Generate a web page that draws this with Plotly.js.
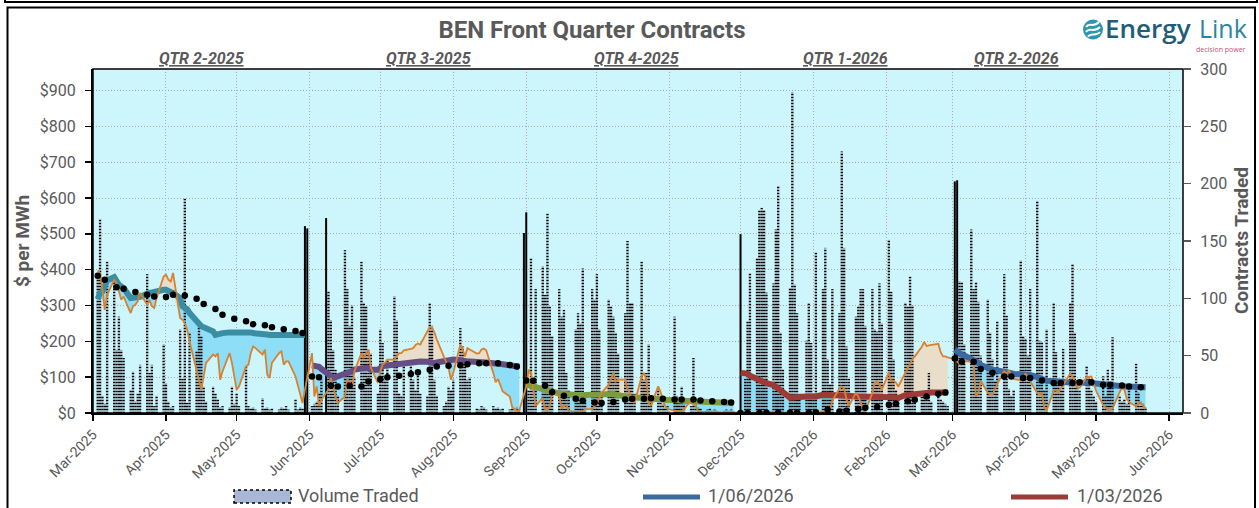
<!DOCTYPE html>
<html><head><meta charset="utf-8">
<script src="https://cdn.plot.ly/plotly-3.0.1.min.js"></script>
<style>html,body{margin:0;padding:0;background:#fff;}#chart{width:1259px;height:508px;}</style>
</head><body><div id="chart"></div>
<script>
// ---------- DATA ----------
const monthTicks = ['2025-03-01','2025-04-01','2025-05-01','2025-06-01','2025-07-01','2025-08-01','2025-09-01','2025-10-01','2025-11-01','2025-12-01','2026-01-01','2026-02-01','2026-03-01','2026-04-01','2026-05-01','2026-06-01'];
const qtrLabels = ['QTR 2-2025','QTR 3-2025','QTR 4-2025','QTR 1-2026','QTR 2-2026'];
const legendLabels = ['Volume Traded','1/06/2026','1/03/2026'];
const yTickVals = [0,100,200,300,400,500,600,700,800,900];

// trading-day windows of each front quarter
const periodStart = ['2025-03-03','2025-06-02','2025-09-01','2025-12-01','2026-03-02'];
const periodEnd   = ['2025-05-30','2025-08-29','2025-11-28','2026-02-27','2026-05-22'];

// daily spot price ($/MWh, orange)
const spot_Q2_2025 = [398,391,344,288,330, 372,363,339,316,325, 279,298,302,312,335, 302,316,298,293,321, 381,386,372,367,391, 265,260,251,232,200, 121,88,65,102,140, 163,158,167,93,116, 167,140,102,65,74, 130,135,167,186,181, 163,177,107,98,140, 167,172,135,144,144, 102,79,51,28,65];
const spot_Q3_2025 = [167,46,74,19,37, 65,98,74,46,28, 46,93,88,70,116, 167,153,167,177,126, 84,116,135,140,149, 149,158,167,167,175, 179,181,190,194,191, 231,240,237,225,205, 158,144,126,93,112, 191,177,158,181,177, 166,167,177,180,175, 112,86,95,79,60, 46,17,11,7,6];
const spot_Q4_2025 = [74,121,112,65,19, 42,11,7,19,56, 47,14,19,23,5, 2,3,4,5,11, 11,19,28,42,56, 79,95,112,88,93, 93,65,56,37,28, 102,112,93,28,20, 74,60,37,19,11, 5,5,5,5,11, 35,33,19,5,4, 2,2,2,2,2, 2,2,1,1,1];
const spot_Q1_2026 = [1,0,1,0,2, 2,1,0,3,2, 4,5,3,2,1, 1,0,0,1,0, 0,1,0,2,0, 5,2,5,9,35, 68,74,67,40,19, 56,46,30,12,5, 56,84,88,80,65, 112,88,90,85,74, 112,125,140,150,158, 185,198,187,189,190, 193,170,158,158,155];
const spot_Q2_2026 = [150,143,137,137,145, 143,135,46,56,90, 56,53,52,65,80, 118,107,120,102,95, 91,95,110,100,88, 55,52,56,15,7, 62,63,57,68,80, 110,100,88,70,70, 100,100,102,82,62, 22,14,9,9,12, 58,70,65,40,30, 19,28,28,20,11];

// front quarter contract price ($/MWh)
const fwd_Q2_2025 = [318,335,339,353,370, 379,367,358,353,349, 321,321,321,321,324, 333,335,335,335,337, 344,344,339,337,335, 321,298,293,290,279, 256,246,242,239,237, 228,218,221,223,223, 225,225,226,227,228, 228,226,225,223,223, 221,221,219,218,218, 219,220,220,220,220, 219,219,218,218,218];
const fwd_Q3_2025 = [133,132,131,129,123, 107,100,98,100,102, 112,114,115,116,121, 126,126,126,125,121, 121,128,130,132,133, 136,138,139,139,140, 143,144,144,144,144, 143,141,140,139,141, 144,145,146,148,149, 147,145,144,144,144, 144,143,142,142,141, 139,139,138,137,136, 133,132,131,130,129];
const fwd_Q4_2025 = [79,77,75,73,71, 66,64,62,60,58, 55,54,53,52,51, 50,49,48,49,50, 51,52,53,52,50, 51,52,53,51,49, 47,45,44,43,42, 42,42,42,41,41, 40,39,38,37,36, 36,35,35,34,34, 33,33,32,32,32, 31,31,31,30,30, 30,29,29,28,28];
const fwd_Q1_2026 = [112,112,112,110,104, 95,90,87,85,83, 78,72,66,62,58, 43,44,45,46,46, 46,46,46,46,46, 51,51,51,51,51, 51,51,50,49,48, 46,46,46,46,46, 47,48,48,47,47, 46,45,44,43,42, 50,51,52,53,54, 55,56,56,57,57, 57,57,57,57,57];
const fwd_Q2_2026 = [177,170,163,162,161, 152,150,146,140,134, 124,121,121,120,119, 118,115,112,111,109, 107,107,107,107,106, 100,97,93,91,90, 89,88,88,87,86, 85,84,84,84,85, 85,85,84,83,82, 81,80,79,78,77, 76,75,74,74,74, 74,73,73,72,72];

// daily volume traded (contracts)
const vol_Q2_2025 = [119,169,15,8,132, 119,55,84,55,48, 20,36,10,17,42, 121,35,42,6,15, 60,26,10,5,6, 73,30,187,9,70, 54,76,67,23,10, 23,17,12,5,6, 5,23,8,17,6, 41,6,4,5,3, 13,4,5,3,4, 3,5,4,6,3, 12,3,5,4,0];
const vol_Q3_2025 = [6,8,10,17,29, 106,81,55,38,15, 142,108,76,94,31, 132,96,93,55,52, 17,73,61,29,47, 102,81,17,15,41, 41,29,20,35,17, 15,96,76,29,15, 6,10,23,20,29, 74,58,47,29,31, 4,3,6,5,3, 6,4,5,3,4, 3,4,3,5,3];
const vol_Q4_2025 = [0,20,135,29,108, 128,103,174,93,67, 108,84,90,35,20, 73,87,78,126,17, 108,99,121,73,15, 99,93,84,70,52, 87,150,96,96,17, 132,29,35,60,10, 23,12,8,5,6, 84,15,10,23,8, 6,48,12,5,4, 3,4,2,3,2, 2,3,2,3,2];
const vol_Q1_2026 = [0,0,30,80,122, 135,177,179,177,105, 113,160,198,70,38, 109,280,112,87,17, 63,96,61,17,140, 108,144,47,25,108, 87,228,144,58,30, 84,93,108,108,76, 108,73,71,113,78, 151,106,47,20,15, 96,93,119,94,17, 17,17,12,35,10, 17,12,10,8,6];
const vol_Q2_2026 = [0,0,115,114,60, 160,108,114,97,50, 99,70,47,28,80, 121,85,21,15,20, 133,67,65,50,108, 185,63,62,20,73, 96,53,25,20,56, 96,130,70,25,20, 41,32,20,15,10, 32,15,38,27,66, 15,10,12,8,20, 43,18,10,8,5];

// large roll-over volumes (solid bars)
const rollDates = ['2025-05-30','2025-05-31','2025-06-08','2025-08-31','2025-09-01','2025-12-01','2026-03-02','2026-03-03'];
const rollVol   = [163,161,170,157,175,156,202,203];

// average price markers (every third trading day)
const avg_Q2_2025 = [383,372,351,347,338,330,325,324,330,328,319,304,290,274,263,256,248,245,239,234,229,223];
const avg_Q3_2025 = [102,100,77,74,76,74,88,94,100,104,109,114,121,130,132,133,136,139,139,139,134,130];
const avg_Q4_2025 = [91,90,76,58,48,40,34,29,28,31,38,40,40,41,40,38,38,38,35,33,31,29];
const avg_Q1_2026 = [0,0,0,1,1,1,1,1,2,9,4,6,11,15,17,23,26,33,37,46,54,57];
const avg_Q2_2026 = [152,143,143,123,112,102,102,98,98,91,84,84,84,86,86,79,79,77,74,72];

// ---------- STYLE ----------
const FONT = 'Roboto, "Open Sans", sans-serif';
const GREY = '#595959';
const lineColors = ['#3a8ea3','#654d86','#7b9c3f','#9b3a37','#3c6aa0'];
const SPOT_C = '#d8822f', BLUE_FILL = '#8edef7', BEIGE_FILL = '#e8dec9';

function weekdays(a, b) {
  const out = []; const d = new Date(a + 'T00:00:00Z'); const e = new Date(b + 'T00:00:00Z');
  while (d <= e) { const w = d.getUTCDay(); if (w > 0 && w < 6) out.push(d.toISOString().slice(0, 10)); d.setUTCDate(d.getUTCDate() + 1); }
  return out;
}

const spots = [spot_Q2_2025, spot_Q3_2025, spot_Q4_2025, spot_Q1_2026, spot_Q2_2026];
const fwds = [fwd_Q2_2025, fwd_Q3_2025, fwd_Q4_2025, fwd_Q1_2026, fwd_Q2_2026];
const vols = [vol_Q2_2025, vol_Q3_2025, vol_Q4_2025, vol_Q1_2026, vol_Q2_2026];
const avgs = [avg_Q2_2025, avg_Q3_2025, avg_Q4_2025, avg_Q1_2026, avg_Q2_2026];

const traces = [];
const allDates = [], allSpot = [], volDates = [], allVol = [], avgX = [], avgY = [];
const lineTraces = [];
for (let q = 0; q < 5; q++) {
  const dates = weekdays(periodStart[q], periodEnd[q]);
  const n = Math.min(dates.length, spots[q].length, fwds[q].length);
  const x = dates.slice(0, n), s = spots[q].slice(0, n), f = fwds[q].slice(0, n);
  const m = s.map((v, i) => Math.min(v, f[i]));
  const base = {x: x, mode: 'lines', line: {width: 0}, hoverinfo: 'skip', showlegend: false, xaxis: 'x', yaxis: 'y'};
  traces.push(Object.assign({}, base, {y: m}));
  traces.push(Object.assign({}, base, {y: f, fill: 'tonexty', fillcolor: BLUE_FILL}));
  traces.push(Object.assign({}, base, {y: m}));
  traces.push(Object.assign({}, base, {y: s, fill: 'tonexty', fillcolor: BEIGE_FILL}));
  lineTraces.push({x: x, y: f, mode: 'lines', line: {color: lineColors[q], width: 6}, xaxis: 'x', yaxis: 'y3', showlegend: false, hoverinfo: 'skip'});
  x.forEach((d, i) => { allDates.push(d); allSpot.push(s[i]); });
  dates.slice(0, vols[q].length).forEach((d, i) => { volDates.push(d); allVol.push(vols[q][i]); });
  avgs[q].forEach((v, k) => { const d = dates[k * 3]; if (d) { avgX.push(d); avgY.push(v); } });
}

const DAY = 86400000;
traces.push({type: 'bar', x: volDates, y: allVol, width: DAY * 1.0, xaxis: 'x', yaxis: 'y2', showlegend: false, hoverinfo: 'skip',
  marker: {color: 'rgba(169,183,214,0.3)', line: {width: 0}, pattern: {shape: '-', fgcolor: '#000000', bgcolor: 'rgba(169,183,214,0.3)', size: 3, solidity: 0.5, fillmode: 'replace'}}});
traces.push({type: 'bar', x: rollDates, y: rollVol, width: DAY * 0.85, xaxis: 'x', yaxis: 'y2', showlegend: false, hoverinfo: 'skip',
  marker: {color: '#000000', line: {width: 0}}});
lineTraces.forEach(t => traces.push(t));
traces.push({x: allDates, y: allSpot, mode: 'lines', line: {color: SPOT_C, width: 1.8}, xaxis: 'x', yaxis: 'y3', showlegend: false, hoverinfo: 'skip'});
traces.push({x: avgX, y: avgY, mode: 'markers', marker: {color: '#000', size: 6.5}, xaxis: 'x', yaxis: 'y3', showlegend: false, hoverinfo: 'skip'});

// ---------- LAYOUT ----------
const ML = 93, MR = 76, MT = 69, MB = 95, FW = 1259, FH = 508;
const PW = FW - ML - MR, PH = FH - MT - MB;
const PX = px => (px - ML) / PW;
const PY = py => (FH - MB - py) / PH;
const P = (x, y) => PX(x) + ',' + PY(y);

const qtrX = [201, 428, 636, 845, 1016];
const annotations = [];
qtrLabels.forEach((t, i) => annotations.push({text: t, x: PX(qtrX[i]), y: PY(59), xref: 'paper', yref: 'paper', showarrow: false, xanchor: 'center', yanchor: 'middle',
  font: {family: FONT, size: 16, weight: 700, style: 'italic', color: GREY, lineposition: 'under'}}));
annotations.push({text: '$ per MWh', x: PX(22), y: 0.5, xref: 'paper', yref: 'paper', showarrow: false, textangle: -90, xanchor: 'center', yanchor: 'middle', font: {family: FONT, size: 19, weight: 700, color: GREY}});
annotations.push({text: 'Contracts Traded', x: PX(1241), y: 0.5, xref: 'paper', yref: 'paper', showarrow: false, textangle: -90, xanchor: 'center', yanchor: 'middle', font: {family: FONT, size: 19, weight: 700, color: GREY}});
const legTextX = [296, 706, 1075];
legendLabels.forEach((t, i) => annotations.push({text: t, x: PX(legTextX[i]), y: PY(495.5), xref: 'paper', yref: 'paper', showarrow: false, xanchor: 'left', yanchor: 'middle', font: {family: FONT, size: 18, color: GREY}}));
// logo text
annotations.push({text: 'Energy', x: PX(1103), y: PY(28), xref: 'paper', yref: 'paper', showarrow: false, xanchor: 'left', yanchor: 'middle', font: {family: '"Open Sans", sans-serif', size: 26, weight: 600, color: '#1d5d79'}});
annotations.push({text: 'Link', x: PX(1197), y: PY(28), xref: 'paper', yref: 'paper', showarrow: false, xanchor: 'left', yanchor: 'middle', font: {family: '"Open Sans", sans-serif', size: 25, weight: 400, color: '#2e84a0'}});
annotations.push({text: 'decision power', x: PX(1248), y: PY(43), xref: 'paper', yref: 'paper', showarrow: false, xanchor: 'right', yanchor: 'top', font: {family: '"Open Sans", sans-serif', size: 7, color: '#c2507a'}});

const shapes = [
  {type: 'rect', xref: 'paper', yref: 'paper', x0: PX(5), x1: PX(1257), y0: PY(2), y1: PY(-20), line: {color: '#000', width: 2}},
  {type: 'rect', xref: 'paper', yref: 'paper', x0: PX(7.5), x1: PX(1255), y0: PY(560), y1: PY(7.5), line: {color: '#000', width: 2}},
  {type: 'rect', xref: 'paper', yref: 'paper', x0: 0, x1: 1, y0: 0, y1: 1, line: {color: '#000', width: 1.5}, layer: 'above'},
  // legend swatches
  {type: 'rect', xref: 'paper', yref: 'paper', x0: PX(234), x1: PX(291), y0: PY(503), y1: PY(490), fillcolor: 'rgb(169,183,214)', line: {color: '#000', width: 1.5, dash: 'dot'}},
  {type: 'line', xref: 'paper', yref: 'paper', x0: PX(643), x1: PX(700), y0: PY(497), y1: PY(497), line: {color: lineColors[4], width: 5}},
  {type: 'line', xref: 'paper', yref: 'paper', x0: PX(1011), x1: PX(1068), y0: PY(497), y1: PY(497), line: {color: lineColors[3], width: 5}},
  // logo icon
  {type: 'circle', xref: 'paper', yref: 'paper', x0: PX(1083), x1: PX(1103), y0: PY(39.5), y1: PY(19.5), fillcolor: '#2b97ae', line: {width: 0}},
  {type: 'path', xref: 'paper', yref: 'paper', path: 'M ' + P(1086, 27) + ' C ' + P(1089, 22) + ' ' + P(1093, 28) + ' ' + P(1099, 22), line: {color: '#fff', width: 2}},
  {type: 'path', xref: 'paper', yref: 'paper', path: 'M ' + P(1086, 32) + ' C ' + P(1089, 27) + ' ' + P(1094, 33) + ' ' + P(1100, 27), line: {color: '#fff', width: 2}},
  {type: 'path', xref: 'paper', yref: 'paper', path: 'M ' + P(1088, 36.5) + ' C ' + P(1091, 32) + ' ' + P(1096, 37) + ' ' + P(1100, 32), line: {color: '#fff', width: 2}}
];

const layout = {
  width: FW, height: FH, margin: {l: ML, r: MR, t: MT, b: MB, pad: 0},
  paper_bgcolor: '#ffffff', plot_bgcolor: 'rgb(204,245,252)',
  title: {text: 'BEN Front Quarter Contracts', x: 592 / FW, xref: 'container', xanchor: 'center', y: 1 - 30 / FH, yref: 'container', yanchor: 'middle', font: {family: FONT, size: 24, weight: 700, color: GREY}},
  showlegend: false, barmode: 'overlay', hovermode: false,
  xaxis: {type: 'date', range: ['2025-03-01', '2026-06-06 22:00'], tickmode: 'array', tickvals: monthTicks, tickformat: '%b-%Y', tickangle: -45,
    ticks: 'outside', ticklen: 6, tickwidth: 1.5, tickcolor: '#000', showline: true, linecolor: '#000', linewidth: 2,
    showgrid: true, gridcolor: '#ababab', griddash: '1px,2px', gridwidth: 1, zeroline: false, tickfont: {family: FONT, size: 14, color: GREY}},
  yaxis: {range: [0, 960], tickmode: 'array', tickvals: yTickVals, ticktext: yTickVals.map(v => '$' + v), ticks: 'outside', ticklen: 6, tickwidth: 1.5, tickcolor: '#000',
    showline: true, linecolor: '#000', linewidth: 2, showgrid: true, gridcolor: '#ababab', griddash: '1px,2px', gridwidth: 1, zeroline: false,
    tickfont: {family: FONT, size: 16, color: GREY}, ticklabelstandoff: 6},
  yaxis2: {overlaying: 'y', side: 'right', range: [0, 300], tickmode: 'linear', tick0: 0, dtick: 50, ticks: 'outside', ticklen: 7, tickwidth: 1.5, tickcolor: '#595959',
    showgrid: false, zeroline: false, showline: false, tickfont: {family: FONT, size: 16, color: GREY}, ticklabelstandoff: 6},
  yaxis3: {overlaying: 'y', range: [0, 960], visible: false},
  annotations: annotations, shapes: shapes
};

Plotly.newPlot('chart', traces, layout, {staticPlot: true, displayModeBar: false});
</script></body></html>
